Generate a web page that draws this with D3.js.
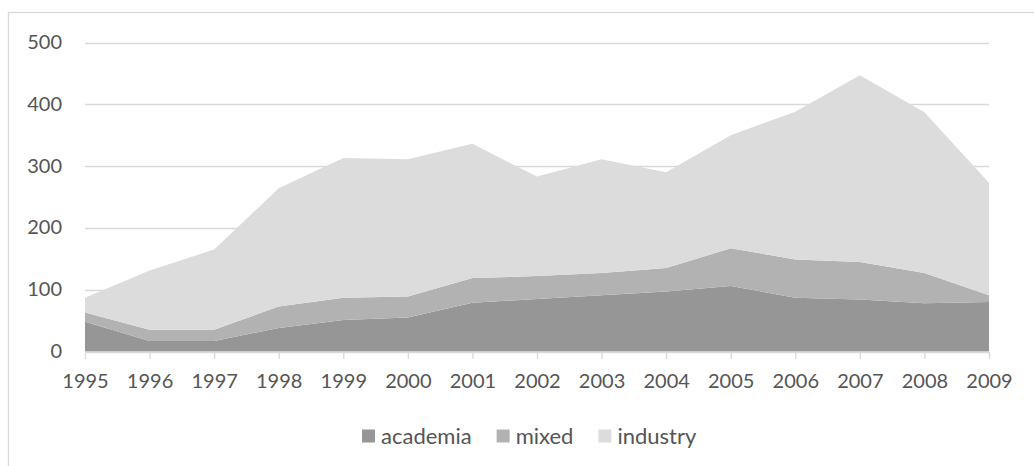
<!DOCTYPE html>
<html>
<head>
<meta charset="utf-8">
<script src="https://cdn.jsdelivr.net/npm/d3@7"></script>
<style>
  html, body { margin: 0; padding: 0; background: #fff; }
  svg { display: block; }
  text { font-family: Lato, "Open Sans", sans-serif; fill: #555555; }
</style>
</head>
<body>
<svg id="chart" width="1034" height="466"></svg>
<script>
// Publications per year, split by affiliation
const years    = [1995, 1996, 1997, 1998, 1999, 2000, 2001, 2002, 2003, 2004, 2005, 2006, 2007, 2008, 2009];
const academia = [48, 17, 17, 38, 51, 55, 79, 85, 91, 97, 106, 87, 84, 78, 80];
const mixed    = [15, 18, 18, 35, 36, 34, 40, 37, 36, 38, 61, 62, 61, 49, 11];
const industry = [24, 96, 130, 191, 226, 222, 217, 161, 184, 155, 183, 239, 302, 260, 182];
const seriesNames = ["academia", "mixed", "industry"];
const yTicks = [0, 100, 200, 300, 400, 500];

const colors = { academia: "#969696", mixed: "#b2b2b2", industry: "#dcdcdc" };

const svg = d3.select("#chart");

// outer chart frame
svg.append("rect")
  .attr("x", 8.5).attr("y", 12.5)
  .attr("width", 1100).attr("height", 600)
  .attr("fill", "none").attr("stroke", "#d9d9d9").attr("stroke-width", 1.3);

const x = d3.scalePoint().domain(years).range([85, 989]);
const y = d3.scaleLinear().domain([0, 500]).range([351.5, 42.5]);

// horizontal gridlines
svg.append("g").selectAll("line")
  .data(yTicks.filter(d => d > 0))
  .join("line")
  .attr("x1", 85).attr("x2", 989)
  .attr("y1", d => Math.round(y(d)) + 0.5).attr("y2", d => Math.round(y(d)) + 0.5)
  .attr("stroke", "#d9d9d9").attr("stroke-width", 1.3);

// stacked areas
const rows = years.map((yr, i) => ({ year: yr, academia: academia[i], mixed: mixed[i], industry: industry[i] }));
const stacked = d3.stack().keys(seriesNames)(rows);
const area = d3.area()
  .x(d => x(d.data.year))
  .y0(d => y(d[0]))
  .y1(d => y(d[1]));

svg.append("g").selectAll("path")
  .data(stacked)
  .join("path")
  .attr("d", area)
  .attr("fill", d => colors[d.key]);

// y axis labels
const yAxis = d3.axisLeft(y).tickValues(yTicks).tickSize(0).tickPadding(0).tickFormat(d3.format("d"));
const gy = svg.append("g").attr("transform", "translate(62,0)").call(yAxis);
gy.select(".domain").remove();
gy.selectAll("text").attr("font-size", 20).attr("font-family", "Lato, sans-serif").attr("fill", "#555555").attr("dy", "0.3em");

// x axis with downward ticks
const xAxis = d3.axisBottom(x).tickSize(7).tickPadding(15).tickSizeOuter(0);
const gx = svg.append("g").attr("transform", "translate(0,352)").call(xAxis);
gx.select(".domain").attr("stroke", "#d9d9d9").attr("stroke-width", 1.3).attr("d", "M85,0.5H989");
gx.selectAll(".tick line").attr("stroke", "#d9d9d9").attr("stroke-width", 1.3);
gx.selectAll("text").attr("font-size", 20).attr("font-family", "Lato, sans-serif").attr("fill", "#555555");

// legend
const legend = svg.append("g");
const items = legend.selectAll("g").data(seriesNames).join("g");
items.append("rect").attr("width", 13).attr("height", 13).attr("y", -6.5).attr("fill", d => colors[d]);
items.append("text").attr("x", 19).attr("dy", "0.35em").attr("font-size", 22).text(d => d);
let cx = 0;
items.each(function () {
  d3.select(this).attr("transform", `translate(${cx},0)`);
  cx += this.getBBox().width + 25;
});
const totalW = cx - 25;
legend.attr("transform", `translate(${529.5 - totalW / 2},436)`);
</script>
</body>
</html>
